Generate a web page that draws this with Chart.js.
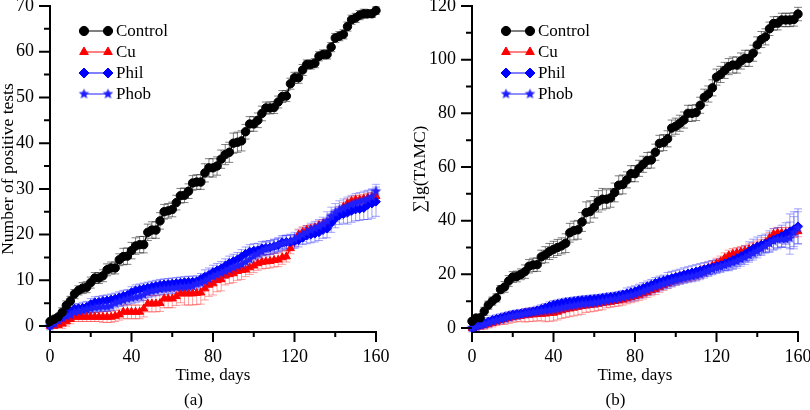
<!DOCTYPE html>
<html lang="en">
<head>
  <meta charset="UTF-8" />
  <title>Positive tests and TAMC over time</title>
  <script src="https://cdn.jsdelivr.net/npm/chart.js"></script>
  <style>
    html, body { margin: 0; padding: 0; background: #fff; }
    #wrap { position: relative; width: 810px; height: 410px; }
    canvas { position: absolute; top: 0; }
    #chartA { left: 0; }
    #chartB { left: 405px; }
  </style>
</head>
<body>
  <div id="wrap">
    <canvas id="chartA" width="405" height="410"></canvas>
    <canvas id="chartB" width="405" height="410"></canvas>
  </div>

  <script>
    // x values (days), one point every second day
    const days = [0, 2, 4, 6, 8, 10, 12, 14, 16, 18,
      20, 22, 24, 26, 28, 30, 32, 34, 36, 38,
      40, 42, 44, 46, 48, 50, 52, 54, 56, 58,
      60, 62, 64, 66, 68, 70, 72, 74, 76, 78,
      80, 82, 84, 86, 88, 90, 92, 94, 96, 98,
      100, 102, 104, 106, 108, 110, 112, 114, 116, 118,
      120, 122, 124, 126, 128, 130, 132, 134, 136, 138,
      140, 142, 144, 146, 148, 150, 152, 154, 156, 158,
      160];
    // error bar half-widths are read per 10-day window: 0, 10, 20 ... 160
    const errDays = [0, 10, 20, 30, 40, 50, 60, 70, 80, 90, 100, 110, 120, 130, 140, 150, 160];

    const seriesNames = ['Control', 'Cu', 'Phil', 'Phob'];

    // (a) Number of positive tests
    const posControl = [1, 1.5, 2, 3, 4.5, 5.5, 7, 7.8, 8.3, 8.5,
      9.5, 10.5, 10.5, 11, 12.3, 12.7, 12.7, 14.5, 15.2, 15.3,
      16.5, 17.5, 17.8, 17.8, 20.5, 21, 21, 23, 25, 25.2,
      25.5, 27, 28.5, 28.6, 29.5, 31.3, 31.5, 31.5, 33.5, 34.6,
      34.6, 35, 36.5, 37.5, 38, 40, 40.2, 40.5, 42.5, 44.2,
      44.2, 45, 46.5, 47.7, 47.7, 47.8, 49, 50.2, 50.3, 53,
      54.3, 54.3, 56, 57.2, 57.2, 57.5, 59, 59.4, 59.4, 61,
      63, 63.4, 63.8, 65.5, 67, 67.4, 68, 68.3, 68.3, 68.3,
      69];
    const posCu = [0, 0, 0.2, 0.5, 1, 1.5, 2, 2, 2, 2,
      2, 2, 2, 2, 2, 2, 2.2, 2.5, 3.1, 3.1,
      3.1, 3.1, 3.1, 3.8, 4.9, 4.9, 4.9, 5, 6, 6,
      6, 6.5, 7.1, 7.1, 7.1, 7.1, 7.2, 7.3, 8.2, 9,
      9.3, 10, 10.2, 11, 11.3, 11.5, 12, 12.2, 12.3, 12.8,
      13.2, 13.7, 14, 14.1, 14.2, 14.4, 14.5, 15, 15.2, 17,
      18.5, 20, 20.5, 21, 21.2, 21.5, 22, 22.3, 22.5, 23.5,
      24.2, 25, 26, 26.8, 27.3, 27.6, 27.6, 27.8, 28, 28.2,
      28.4];
    const posPhil = [0, 0.8, 1.5, 2, 2.5, 3.2, 3.8, 3.9, 4, 4.2,
      4.8, 5.2, 5.3, 5.5, 5.6, 5.8, 6, 6.3, 6.6, 6.8,
      7.4, 7.8, 8, 8.2, 8.4, 8.6, 8.8, 9, 9.1, 9.2,
      9.3, 9.4, 9.5, 9.6, 9.7, 9.7, 9.8, 10.3, 10.8, 11.2,
      11.8, 12.2, 12.6, 13.2, 13.8, 14.2, 14.6, 15.2, 15.8, 16.3,
      16.5, 16.6, 17, 17.1, 17.2, 17.5, 17.7, 18.3, 18.4, 18.4,
      18.5, 18.8, 19.3, 19.8, 20, 20.2, 20.5, 21, 21.3, 22.5,
      23.5, 24.2, 24.5, 24.8, 25.2, 25.5, 25.6, 25.8, 26.5, 26.8,
      27.2];
    const posPhob = [0, 0.5, 1.2, 1.8, 2.2, 2.4, 3, 3.2, 3.4, 3.6,
      3.8, 4, 4.1, 4.2, 4.2, 4.4, 5, 5.3, 5.6, 5.9,
      6.1, 6.3, 6.5, 6.8, 7.4, 7.6, 7.8, 8, 8.1, 8.2,
      8.3, 8.4, 8.5, 8.5, 8.6, 8.7, 9.2, 9.4, 9.8, 10.3,
      10.8, 11.2, 11.6, 12, 12.4, 12.8, 13.2, 13.5, 14, 14.6,
      15.3, 15.8, 16.3, 16.8, 17.1, 17.4, 17.8, 18, 18.3, 18.6,
      19, 19.5, 20, 20.5, 21, 21.4, 21.8, 22.3, 23, 24,
      24.8, 25.4, 25.8, 26.2, 26.6, 27, 27.2, 27.5, 27.8, 28.3,
      29.5];
    const posErrControl = [0.5, 1, 1.2, 1.3, 1.8, 1.8, 1.6, 1.6, 2, 2.2, 1.6, 1.3, 1.2, 1, 1, 1, 0.8];
    const posErrCu = [0.3, 1, 1, 1.2, 1.5, 1.8, 2, 2.5, 2.5, 2, 1.5, 1.5, 1.2, 1, 1, 1, 1];
    const posErrPhil = [0.5, 1, 1.2, 1.2, 1.2, 1.2, 1.2, 1.2, 1.5, 1.5, 1.5, 1.5, 1.5, 1.8, 2, 2.5, 3.2];
    const posErrPhob = [0.5, 1, 1, 1, 1.2, 1.2, 1.2, 1.2, 1.5, 1.5, 1.5, 1.5, 1.5, 1.5, 2, 2, 1.5];

    // (b) sum of lg(TAMC)
    const tamcControl = [2.5, 3.7, 3.8, 6.2, 8.5, 10, 11.2, 14.3, 15.3, 17.5,
      19, 19.2, 20, 21, 23, 23.5, 23.6, 26.5, 27.3, 28.5,
      29.3, 30, 30.6, 31.6, 35.5, 36.3, 36.6, 39.5, 43, 43.4,
      45, 47.2, 48, 48, 48.5, 50.5, 53.2, 53.5, 55.2, 57.5,
      57.5, 59.5, 61, 62.4, 62.6, 65.5, 68.8, 69.1, 70.5, 74.5,
      75.2, 76.3, 77.5, 80, 80, 80.3, 83, 86, 87.2, 89.5,
      93.5, 94.5, 96, 97.4, 98, 98, 99.5, 100.5, 100.5, 102.4,
      105.5, 107.5, 108.5, 111.5, 113.5, 113.6, 114.8, 114.8, 114.8, 115,
      117];
    const tamcCu = [0, 0.2, 0.5, 1, 1.5, 1.9, 2.4, 2.9, 3.3, 3.7,
      4.1, 4.3, 4.5, 4.7, 4.9, 5, 5.1, 5.2, 5.3, 5.5,
      5.6, 6, 6.5, 6.9, 7.2, 7.5, 7.8, 8.1, 8.3, 8.5,
      8.7, 9, 9.3, 9.5, 9.7, 10, 10.2, 10.5, 11, 11.4,
      11.8, 12.3, 12.8, 13.4, 14, 14.5, 15.3, 16, 16.7, 17.4,
      18, 18.5, 19, 19.3, 19.6, 19.9, 20.5, 21.3, 22.2, 23.1,
      24, 24.8, 26, 27, 27.6, 28, 28.4, 28.8, 29.3, 29.8,
      30.4, 31, 31.7, 33.5, 35, 35.4, 35.4, 35.4, 35.5, 35.7,
      36];
    const tamcPhil = [0, 0.6, 1.2, 1.8, 2.4, 3, 3.4, 3.8, 4.2, 4.6,
      5, 5.2, 5.4, 5.7, 5.9, 6.2, 6.6, 7.1, 7.6, 8.2,
      8.7, 9, 9.3, 9.6, 9.8, 10, 10.2, 10.4, 10.5, 10.7,
      10.8, 11, 11.2, 11.4, 11.6, 11.8, 12.1, 12.5, 12.9, 13.3,
      13.7, 14.3, 14.9, 15.5, 16.1, 16.8, 17.3, 17.7, 18.2, 18.6,
      19, 19.4, 19.9, 20.3, 20.7, 21.1, 21.5, 21.9, 22.3, 22.6,
      23, 23.4, 24, 24.6, 25.3, 26, 26.8, 27.6, 28.6, 29.6,
      30.4, 31, 31.5, 32.2, 33, 33.5, 34.3, 35.2, 36, 36.8,
      37.9];
    const tamcPhob = [0, 0.4, 0.9, 1.4, 1.9, 2.4, 2.8, 3.2, 3.6, 4,
      4.4, 4.7, 5, 5.3, 5.6, 5.8, 6, 6.2, 6.4, 6.6,
      6.8, 7.1, 7.4, 7.8, 8.1, 8.3, 8.6, 8.8, 9, 9.1,
      9.3, 9.5, 9.8, 10.1, 10.4, 10.6, 10.9, 11.3, 11.7, 12,
      12.4, 13, 13.5, 14.1, 14.7, 15.3, 15.8, 16.3, 16.8, 17.3,
      17.8, 18.2, 18.6, 18.9, 19.2, 19.5, 20, 20.6, 21.2, 21.8,
      22.4, 22.8, 23.3, 23.8, 24.3, 24.8, 25.5, 26.2, 27, 27.8,
      28.6, 29.5, 30.5, 31.5, 32.4, 33, 33, 33, 33.5, 35.5,
      37.3];
    const tamcErrControl = [1, 1.5, 2, 2.5, 3, 3.5, 4, 3.5, 3, 3, 3, 3, 3, 3, 3, 2.5, 2.5];
    const tamcErrCu = [0.5, 1.5, 2, 2.5, 3, 3, 2.5, 2, 2, 2, 2, 2, 2, 2, 2, 2, 2];
    const tamcErrPhil = [0.5, 1.5, 1.5, 1.5, 1.5, 1.5, 1.5, 1.5, 2, 2, 2.5, 2.5, 2.5, 3, 3.5, 4, 6.5];
    const tamcErrPhob = [0.5, 1.5, 1.5, 1.5, 1.5, 1.5, 1.5, 1.5, 2, 2, 2, 2, 2, 2.5, 2.5, 3, 6];

    // axis ticks
    const xTicks = { step: 40, minor: 20 };
    const posTicks = { min: -1.3, max: 70, step: 10, minor: 5 };
    const tamcTicks = { min: -1.5, max: 120, step: 20, minor: 10 };

    // styles
    const lineColors = ['#000000', '#ff0000', '#0000ff', '#1f1fff'];
    const barColors = ['rgba(0,0,0,0.5)', 'rgba(255,0,0,0.38)', 'rgba(0,0,255,0.38)', 'rgba(40,40,255,0.38)'];
    const markerSizes = [4.2, 4.6, 4.4, 4.4];
    const legendSizes = [4.6, 5, 5, 5];
    const drawOrder = [0, 3, 2, 1];

    Chart.defaults.font.family = '"Liberation Serif", "Times New Roman", serif';
    Chart.defaults.font.size = 17;
    Chart.defaults.color = '#000';

    // filled five point star (the built-in 'star' is only stroked)
    function makeStar(r, color) {
      const c = document.createElement('canvas');
      const s = Math.ceil(r * 2) + 2;
      c.width = s; c.height = s;
      const g = c.getContext('2d');
      g.fillStyle = color;
      g.beginPath();
      for (let i = 0; i < 10; i++) {
        const a = -Math.PI / 2 + i * Math.PI / 5;
        const rr = i % 2 ? r * 0.45 : r;
        g.lineTo(s / 2 + rr * Math.cos(a), s / 2 + rr * Math.sin(a));
      }
      g.closePath();
      g.fill();
      return c;
    }
    const starImg = makeStar(5.5, lineColors[3]);
    const pointStyles = ['circle', 'triangle', 'rectRot', starImg];

    function buildSets(valueLists, errLists) {
      return seriesNames.map((name, i) => ({
        label: name,
        data: days.map((d, k) => ({ x: d, y: valueLists[i][k] })),
        err: errLists[i],
        barColor: barColors[i],
        borderColor: lineColors[i],
        backgroundColor: lineColors[i],
        pointBackgroundColor: lineColors[i],
        pointBorderColor: lineColors[i],
        pointStyle: pointStyles[i],
        pointRadius: markerSizes[i],
        pointBorderWidth: 1,
        borderWidth: 1.5,
        order: drawOrder[i],
        clip: 10
      }));
    }

    const extras = {
      id: 'extras',
      beforeDatasetsDraw(chart) {
        // error bars under all the curves
        const { ctx, chartArea } = chart;
        const xs = chart.scales.x, ys = chart.scales.y;
        ctx.save();
        ctx.beginPath();
        ctx.rect(chartArea.left, chartArea.top - 10, chartArea.width + 10, chartArea.height + 10);
        ctx.clip();
        ctx.lineWidth = 1;
        chart.data.datasets.forEach(ds => {
          ctx.strokeStyle = ds.barColor;
          ctx.beginPath();
          ds.data.forEach(p => {
            const e = ds.err[errDays.indexOf(Math.round(p.x / 10) * 10)];
            const px = xs.getPixelForValue(p.x);
            const y1 = ys.getPixelForValue(p.y + e);
            const y2 = ys.getPixelForValue(p.y - e);
            ctx.moveTo(px, y1); ctx.lineTo(px, y2);
            ctx.moveTo(px - 4, y1); ctx.lineTo(px + 4, y1);
            ctx.moveTo(px - 4, y2); ctx.lineTo(px + 4, y2);
          });
          ctx.stroke();
        });
        ctx.restore();
      },
      afterDraw(chart, args, opts) {
        const { ctx, chartArea } = chart;
        const xs = chart.scales.x, ys = chart.scales.y;
        ctx.save();
        // outward ticks, long on majors, short on minors
        ctx.strokeStyle = '#000';
        ctx.lineWidth = 2;
        ctx.beginPath();
        for (let v = 0; v <= xs.max + 1e-6; v += xTicks.minor) {
          const len = v % xTicks.step === 0 ? 10 : 5;
          const p = xs.getPixelForValue(v);
          ctx.moveTo(p, chartArea.bottom);
          ctx.lineTo(p, chartArea.bottom + len);
        }
        for (let v = 0; v <= ys.max + 1e-6; v += opts.yMinor) {
          const len = v % opts.yStep === 0 ? 11 : 6;
          const p = ys.getPixelForValue(v);
          ctx.moveTo(chartArea.left, p);
          ctx.lineTo(chartArea.left - len, p);
        }
        ctx.stroke();

        // legend: marker, line, marker, name
        ctx.font = '17px "Liberation Serif", "Times New Roman", serif';
        ctx.textBaseline = 'middle';
        chart.data.datasets.forEach((ds, i) => {
          const y = 31 + i * 21;
          const x1 = chartArea.left + 34, x2 = x1 + 24;
          ctx.strokeStyle = ds.borderColor;
          ctx.fillStyle = ds.borderColor;
          ctx.lineWidth = 1;
          ctx.beginPath();
          ctx.moveTo(x1, y); ctx.lineTo(x2, y);
          ctx.stroke();
          [x1, x2].forEach(x => Chart.helpers.drawPoint(ctx,
            { pointStyle: ds.pointStyle, radius: legendSizes[i], rotation: 0, borderWidth: 1 }, x, y));
          ctx.fillStyle = '#000';
          ctx.textAlign = 'left';
          ctx.fillText(ds.label, x2 + 8, y + 1);
        });

        // panel letter
        ctx.textAlign = 'center';
        ctx.fillText(opts.label, chartArea.left + chartArea.width * 0.44, 401);
        ctx.restore();
      }
    };

    function fixBox(size) {
      return s => {
        if (s.isHorizontal()) s.height = size; else s.width = size;
        s.paddingTop = 0; s.paddingBottom = 0; s.paddingLeft = 0; s.paddingRight = 0;
      };
    }

    function makeChart(id, valueLists, errLists, yt, yTitle, yTitlePad, axisWidth, rightPad, label) {
      return new Chart(document.getElementById(id), {
        type: 'line',
        data: { datasets: buildSets(valueLists, errLists) },
        options: {
          responsive: false,
          animation: false,
          events: [],
          layout: { padding: { left: 0, right: rightPad, top: 6, bottom: 0 } },
          plugins: {
            legend: { display: false },
            tooltip: { enabled: false },
            extras: { label: label, yStep: yt.step, yMinor: yt.minor }
          },
          scales: {
            x: {
              type: 'linear',
              min: 0,
              max: 160,
              afterFit: fixBox(78),
              grid: { display: false, drawTicks: false },
              border: { display: true, color: '#000', width: 2 },
              ticks: { stepSize: xTicks.step, padding: 14, maxRotation: 0, includeBounds: false, font: { size: 18 } },
              title: { display: true, text: 'Time, days', padding: { top: 0, bottom: 24 } }
            },
            y: {
              type: 'linear',
              min: yt.min,
              max: yt.max,
              afterFit: fixBox(axisWidth),
              grid: { display: false, drawTicks: false },
              border: { display: true, color: '#000', width: 2 },
              ticks: { stepSize: yt.step, padding: 16, includeBounds: false, font: { size: 18 } },
              title: {
                display: true, text: yTitle,
                font: { size: 17.5, lineHeight: 1 },
                padding: { top: yTitlePad, bottom: 0 }
              }
            }
          }
        },
        plugins: [extras]
      });
    }

    makeChart('chartA', [posControl, posCu, posPhil, posPhob],
      [posErrControl, posErrCu, posErrPhil, posErrPhob],
      posTicks, 'Number of positive tests', 0, 50, 29, '(a)');
    makeChart('chartB', [tamcControl, tamcCu, tamcPhil, tamcPhob],
      [tamcErrControl, tamcErrCu, tamcErrPhil, tamcErrPhob],
      tamcTicks, '\u2211lg(TAMC)', 6.5, 67, 12, '(b)');
  </script>
</body>
</html>
